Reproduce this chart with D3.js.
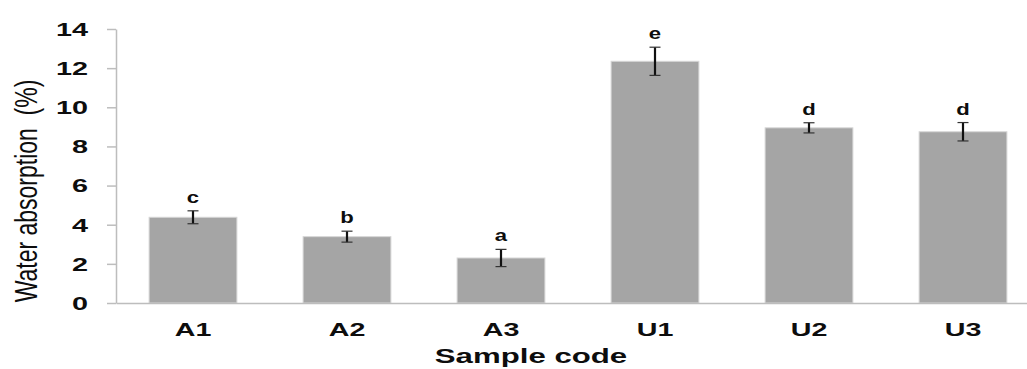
<!DOCTYPE html>
<html>
<head>
<meta charset="utf-8">
<script src="https://cdn.jsdelivr.net/npm/d3@7/dist/d3.min.js"></script>
<style>
  html, body { margin: 0; padding: 0; background: #fff; }
  svg { display: block; }
  text { font-family: "Liberation Sans", Arial, sans-serif; fill: #0d0d0d; white-space: pre; }
</style>
</head>
<body>
<svg id="chart" width="1027" height="369"></svg>
<script>
// ---- data ----
const categories = ["A1", "A2", "A3", "U1", "U2", "U3"];
const means = [4.38, 3.39, 2.30, 12.35, 8.95, 8.75];
const errors = [0.33, 0.28, 0.44, 0.72, 0.26, 0.47];
const letters = ["c", "b", "a", "e", "d", "d"];
const yTicks = [0, 2, 4, 6, 8, 10, 12, 14];
const xTitle = "Sample code";
const yTitle = "Water absorption  (%)";

// ---- layout ----
const mLeft = 116, mRight = 1040, mTop = 29, mBottom = 303;

const svg = d3.select("#chart");

const x = d3.scaleBand()
  .domain(categories)
  .range([mLeft, mRight])
  .paddingInner(0.43)
  .paddingOuter(0.215);

const y = d3.scaleLinear().domain([0, 14]).range([mBottom, mTop]);

const data = categories.map((c, i) => ({ cat: c, v: means[i], e: errors[i], l: letters[i] }));

// bars
svg.append("g").selectAll("rect")
  .data(data).join("rect")
  .attr("x", d => x(d.cat))
  .attr("y", d => y(d.v))
  .attr("width", x.bandwidth())
  .attr("height", d => y(0) - y(d.v))
  .attr("fill", "#a5a5a5")
  .attr("stroke", "#d6d6d6")
  .attr("stroke-width", 1);

// y axis
const yAxis = svg.append("g")
  .attr("transform", `translate(${mLeft},0)`)
  .call(d3.axisLeft(y).tickValues(yTicks).tickSize(9).tickSizeOuter(0));
yAxis.select(".domain").attr("stroke", "#bdbdbd").attr("stroke-width", 1.5);
yAxis.selectAll(".tick line").attr("stroke", "#bdbdbd").attr("stroke-width", 1.5);
yAxis.selectAll(".tick text")
  .attr("x", null).attr("dy", null)
  .attr("dominant-baseline", "central")
  .attr("text-anchor", "end")
  .attr("transform", `translate(-28,0) scale(1.6,1)`)
  .style("font-size", "18px").style("font-weight", "bold").style("fill", "#0d0d0d");

// x axis
const xAxis = svg.append("g")
  .attr("transform", `translate(0,${mBottom})`)
  .call(d3.axisBottom(x).tickSize(0).tickSizeOuter(0));
xAxis.select(".domain").attr("stroke", "#bdbdbd").attr("stroke-width", 1.5);
xAxis.selectAll(".tick text")
  .attr("y", null).attr("dy", null)
  .attr("transform", `translate(0,33) scale(1.55,1)`)
  .style("font-size", "18.5px").style("font-weight", "bold").style("fill", "#0d0d0d");

// error bars
const cx = d => x(d.cat) + x.bandwidth() / 2;
const eg = svg.append("g");
eg.selectAll("line.v").data(data).join("line")
  .attr("class", "v")
  .attr("x1", cx).attr("x2", cx)
  .attr("y1", d => y(d.v - d.e))
  .attr("y2", d => y(d.v + d.e))
  .attr("stroke", "#111").attr("stroke-width", 2.2);
eg.selectAll("line.t").data(data).join("line")
  .attr("class", "t")
  .attr("x1", d => cx(d) - 5.5).attr("x2", d => cx(d) + 5.5)
  .attr("y1", d => y(d.v + d.e)).attr("y2", d => y(d.v + d.e))
  .attr("stroke", "#333").attr("stroke-width", 1.2);
eg.selectAll("line.b").data(data).join("line")
  .attr("class", "b")
  .attr("x1", d => cx(d) - 5.5).attr("x2", d => cx(d) + 5.5)
  .attr("y1", d => y(d.v - d.e)).attr("y2", d => y(d.v - d.e))
  .attr("stroke", "#333").attr("stroke-width", 1.2);

// significance letters
svg.append("g").selectAll("text")
  .data(data).join("text")
  .attr("transform", d => `translate(${cx(d)},${y(d.v + d.e) - 8}) scale(1.3,1)`)
  .attr("text-anchor", "middle")
  .style("font-size", "17px").style("font-weight", "bold")
  .text(d => d.l);

// axis titles
svg.append("text")
  .attr("transform", `translate(531,363) scale(1.56,1)`)
  .attr("text-anchor", "middle")
  .style("font-size", "20px").style("font-weight", "bold")
  .text(xTitle);

svg.append("text")
  .attr("transform", `translate(37,191) scale(1.4,1) rotate(-90)`)
  .attr("text-anchor", "middle")
  .style("font-size", "23px")
  .text(yTitle);
</script>
</body>
</html>
